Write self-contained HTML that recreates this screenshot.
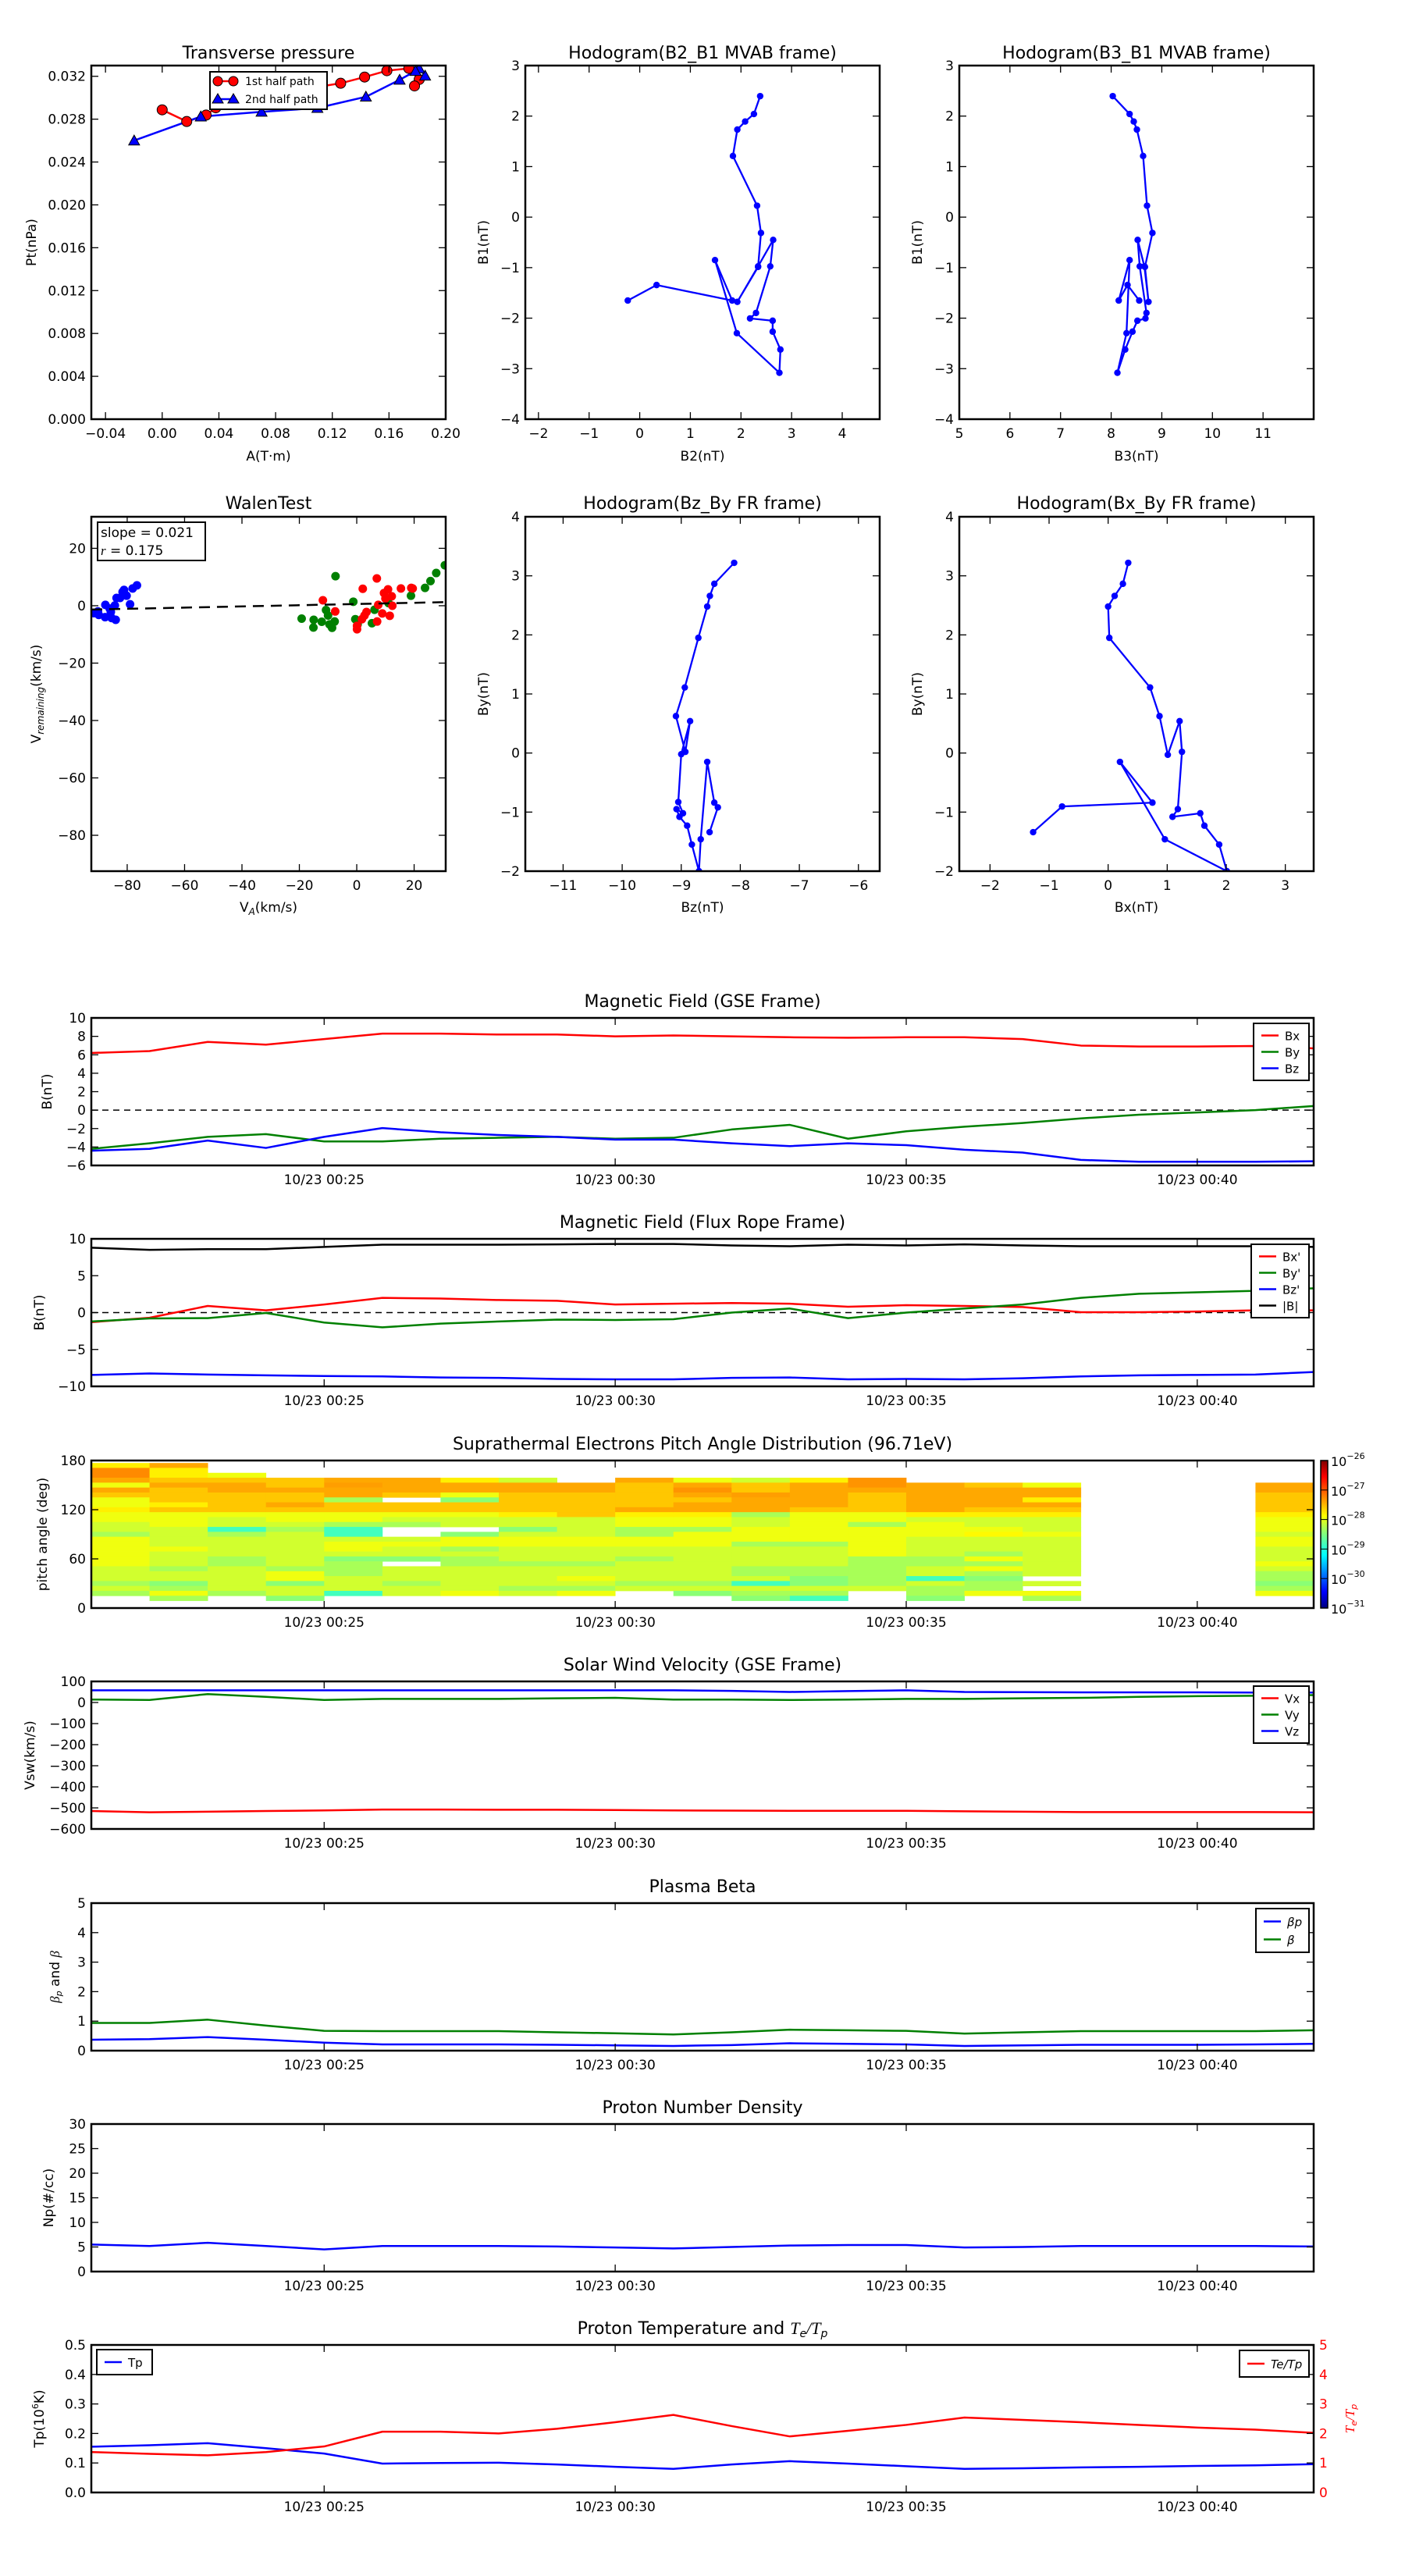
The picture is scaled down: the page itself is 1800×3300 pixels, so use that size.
<!DOCTYPE html>
<html><head><meta charset="utf-8"><title>Flux rope analysis</title>
<style>
html,body{margin:0;padding:0;background:#fff;}
svg{display:block;font-family:"DejaVu Sans","Liberation Sans",sans-serif;}
</style></head>
<body>
<svg id="fig" xmlns="http://www.w3.org/2000/svg" width="1800" height="3300" viewBox="0 0 1800 3300">
<defs>
<linearGradient id="jetGrad" x1="0" y1="1" x2="0" y2="0">
<stop offset="0" stop-color="#00007f"/><stop offset="0.11" stop-color="#0000ff"/><stop offset="0.36" stop-color="#00ffff"/><stop offset="0.5" stop-color="#80ff80"/><stop offset="0.625" stop-color="#ffff00"/><stop offset="0.89" stop-color="#ff0000"/><stop offset="1" stop-color="#7f0000"/>
</linearGradient>
</defs>
<rect x="0" y="0" width="1800" height="3300" fill="#fff"/>
</svg>
<script>
// ---------- Transverse pressure ----------
const tpFirstA = [0.0, 0.0173, 0.031, 0.0378, 0.07, 0.10, 0.1259, 0.1428, 0.1585, 0.174, 0.1813, 0.178];
const tpFirstPt = [0.02887, 0.02778, 0.02838, 0.02906, 0.0300, 0.0308, 0.03135, 0.03193, 0.03252, 0.03274, 0.0317, 0.0311];
const tpSecondA = [0.1855, 0.1813, 0.1787, 0.1675, 0.1437, 0.1095, 0.0701, 0.0272, -0.0198];
const tpSecondPt = [0.03205, 0.03273, 0.03249, 0.03167, 0.03009, 0.02904, 0.02868, 0.02824, 0.0260];
const tpXTicks = [-0.04, 0.00, 0.04, 0.08, 0.12, 0.16, 0.20];
const tpYTicks = [0.000, 0.004, 0.008, 0.012, 0.016, 0.020, 0.024, 0.028, 0.032];
// ---------- Hodogram B2_B1 ----------
const h1B2 = [2.379, 2.256, 2.082, 1.928, 1.841, 2.318, 2.395, 2.338, 1.928, 2.338, 2.636, 2.579, 2.297, 2.179, 2.626, 2.626, 2.779, 2.759, 1.918, 1.487, 1.826, 0.333, -0.236];
const h1B1 = [2.395, 2.041, 1.892, 1.733, 1.210, 0.226, -0.313, -0.985, -1.677, -0.974, -0.451, -0.974, -1.897, -2.005, -2.051, -2.267, -2.621, -3.082, -2.297, -0.851, -1.651, -1.344, -1.651];
// ---------- Hodogram B3_B1 ----------
const h2B3 = [8.031, 8.364, 8.446, 8.508, 8.631, 8.708, 8.815, 8.667, 8.738, 8.656, 8.523, 8.564, 8.697, 8.677, 8.518, 8.421, 8.277, 8.123, 8.303, 8.364, 8.149, 8.323, 8.554];
const h2B1 = [2.395, 2.041, 1.892, 1.733, 1.210, 0.226, -0.313, -0.985, -1.677, -0.974, -0.451, -0.974, -1.897, -2.005, -2.051, -2.267, -2.621, -3.082, -2.297, -0.851, -1.651, -1.344, -1.651];
// ---------- Walen test ----------
const walenBlueX = [-91.6, -90.2, -89.9, -87.6, -87.7, -86.1, -85.7, -85.4, -84.0, -84.3, -83.7, -82.5, -81.6, -81.1, -80.2, -79.0, -78.1, -76.6];
const walenBlueY = [-2.6, -2.0, -3.2, 0.3, -4.0, -1.0, -2.2, -4.3, -4.9, 0.1, 2.7, 2.7, 4.8, 5.5, 3.5, 0.5, 6.0, 7.1];
const walenRedX = [-11.8, -7.5, 2.1, 7.0, 0.1, 0.1, 1.8, 2.7, 3.4, 7.1, 7.5, 8.9, 9.5, 10.9, 12.2, 12.4, 11.5, 15.4, 19.0, 19.5, 10.0];
const walenRedY = [1.9, -2.0, 5.9, 9.5, -8.2, -7.0, -4.7, -3.4, -2.2, -5.5, 0.3, -2.7, 4.4, 5.7, 3.3, 0.0, -3.5, 6.0, 6.2, 6.0, 2.5];
const walenGreenX = [-19.2, -15.0, -15.1, -12.2, -10.7, -10.0, -9.5, -8.6, -7.7, -7.4, -1.2, -0.5, 0.3, 5.3, 6.2, 11.1, 18.9, 23.8, 25.7, 27.7, 30.7];
const walenGreenY = [-4.5, -4.9, -7.6, -5.6, -1.5, -3.4, -6.5, -7.7, -5.5, 10.3, 1.4, -4.7, -6.5, -6.1, -1.4, 0.9, 3.5, 6.2, 8.6, 11.4, 14.1];
const walenSlope = 0.021;
const walenIntercept = 0.6;
const walenTicks = [-80, -60, -40, -20, 0, 20];
// ---------- Hodogram Bz_By ----------
const h3Bz = [-8.104, -8.44, -8.515, -8.56, -8.71, -8.94, -9.09, -8.93, -8.85, -9.0, -9.05, -8.97, -9.08, -9.03, -8.9, -8.82, -8.7, -8.67, -8.56, -8.44, -8.38, -8.52];
const h3By = [3.22, 2.865, 2.66, 2.48, 1.95, 1.11, 0.625, 0.02, 0.54, -0.02, -0.83, -1.02, -0.95, -1.08, -1.23, -1.55, -2.0, -1.46, -0.15, -0.84, -0.92, -1.34];
// ---------- Hodogram Bx_By ----------
const h4Bx = [0.34, 0.25, 0.11, 0.0, 0.02, 0.71, 0.87, 1.01, 1.21, 1.25, 1.18, 1.09, 1.56, 1.63, 1.88, 2.01, 0.96, 0.2, 0.75, -0.78, -1.27];
const h4By = [3.22, 2.865, 2.66, 2.48, 1.95, 1.11, 0.625, -0.03, 0.54, 0.02, -0.95, -1.08, -1.02, -1.23, -1.55, -2.0, -1.46, -0.15, -0.84, -0.905, -1.34];
// ---------- Time series (minutes after 00:21) ----------
const minutes = [0,1,2,3,4,5,6,7,8,9,10,11,12,13,14,15,16,17,18,19,20,21];
const timeTickMinutes = [4, 9, 14, 19];
const timeTickLabels = ['10/23 00:25', '10/23 00:30', '10/23 00:35', '10/23 00:40'];
const gseBx = [6.2, 6.4, 7.4, 7.1, 7.7, 8.3, 8.3, 8.2, 8.2, 8.0, 8.1, 8.0, 7.9, 7.85, 7.9, 7.9, 7.7, 7.0, 6.9, 6.9, 6.95, 6.7];
const gseBy = [-4.2, -3.6, -2.9, -2.6, -3.4, -3.4, -3.1, -3.0, -2.9, -3.1, -3.0, -2.1, -1.6, -3.1, -2.3, -1.8, -1.4, -0.9, -0.5, -0.25, 0.0, 0.45];
const gseBz = [-4.4, -4.2, -3.3, -4.1, -2.9, -1.95, -2.4, -2.7, -2.9, -3.2, -3.2, -3.6, -3.9, -3.6, -3.8, -4.3, -4.6, -5.4, -5.6, -5.6, -5.6, -5.55];
const frBx = [-1.3, -0.7, 0.9, 0.3, 1.1, 2.0, 1.9, 1.7, 1.6, 1.1, 1.2, 1.3, 1.2, 0.8, 1.0, 0.9, 0.75, 0.05, 0.05, 0.15, 0.3, 0.3];
const frBy = [-1.2, -0.8, -0.75, -0.05, -1.35, -2.0, -1.5, -1.2, -0.95, -1.0, -0.9, 0.0, 0.55, -0.75, 0.0, 0.55, 1.1, 2.0, 2.55, 2.75, 2.95, 3.3];
const frBz = [-8.45, -8.25, -8.4, -8.5, -8.6, -8.65, -8.8, -8.85, -9.0, -9.05, -9.05, -8.85, -8.8, -9.05, -9.0, -9.05, -8.9, -8.65, -8.5, -8.45, -8.4, -8.05];
const frBt = [8.8, 8.5, 8.6, 8.6, 8.9, 9.2, 9.2, 9.2, 9.25, 9.3, 9.3, 9.1, 9.0, 9.2, 9.1, 9.25, 9.1, 9.0, 9.0, 9.0, 9.0, 8.9];
const vswVx = [-515, -521, -518, -515, -512, -508, -508, -509, -509, -510, -512, -513, -514, -514, -514, -516, -518, -520, -520, -520, -520, -521];
const vswVy = [14, 12, 40, 27, 12, 17, 17, 17, 20, 22, 14, 14, 12, 14, 17, 17, 20, 22, 27, 30, 32, 35];
const vswVz = [58, 58, 58, 58, 58, 58, 58, 58, 58, 58, 58, 55, 50, 54, 58, 50, 49, 48, 48, 48, 47, 47];
const betaP = [0.37, 0.39, 0.46, 0.37, 0.27, 0.21, 0.21, 0.21, 0.2, 0.18, 0.16, 0.19, 0.25, 0.23, 0.21, 0.16, 0.18, 0.2, 0.2, 0.2, 0.21, 0.23];
const betaTot = [0.94, 0.94, 1.05, 0.85, 0.67, 0.66, 0.66, 0.66, 0.62, 0.59, 0.55, 0.62, 0.71, 0.69, 0.67, 0.58, 0.62, 0.66, 0.66, 0.66, 0.66, 0.69];
const protonDensity = [5.5, 5.2, 5.85, 5.2, 4.5, 5.2, 5.2, 5.2, 5.1, 4.9, 4.7, 5.0, 5.3, 5.4, 5.4, 4.9, 5.0, 5.2, 5.2, 5.2, 5.2, 5.1];
const protonTemp = [0.155, 0.16, 0.167, 0.15, 0.132, 0.098, 0.1, 0.101, 0.095, 0.087, 0.08, 0.095, 0.106, 0.098, 0.089, 0.08, 0.082, 0.085, 0.087, 0.09, 0.092, 0.096];
const tempRatio = [1.37, 1.31, 1.26, 1.37, 1.56, 2.06, 2.06, 2.0, 2.16, 2.38, 2.63, 2.25, 1.9, 2.09, 2.29, 2.54, 2.46, 2.38, 2.29, 2.2, 2.13, 2.02];
// ---------- Pitch angle distribution (log10 flux), rows top (177°) to bottom, 6° bins ----------
const padRowTops = [177,171,165,159,153,147,141,135,129,123,117,111,105,99,93,87,81,75,69,63,57,51,45,39,33,27,21,15];
const padColMinutes = [0,1,2,3,4,5,6,7,8,9,10,11,12,13,14,15,16,20];
const padCol0 = [-27.8,-27.3,-27.3,-27.45,-27.95,-27.45,-27.6,-27.95,-27.95,-27.8,-27.95,-27.95,-28.1,-28.1,-28.3,-27.95,-27.95,-27.95,-27.95,-27.95,-27.95,-28.1,-28.1,-28.1,-28.3,-28.1,-28.3,null];
const padCol1 = [-27.45,-27.8,-27.8,-27.6,-27.45,-27.6,-27.6,-27.6,-27.8,-27.6,-27.95,-27.95,-27.95,-28.1,-28.1,-28.1,-28.1,-27.95,-28.1,-28.1,-28.1,-28.3,-28.1,-28.1,-28.45,-28.3,-27.95,-28.3];
const padCol2 = [null,null,-27.95,-27.6,-27.45,-27.45,-27.6,-27.6,-27.6,-27.6,-27.95,-28.1,-28.1,-28.8,-28.3,-28.1,-28.1,-28.1,-28.1,-28.3,-28.3,-28.1,-28.1,-28.1,-28.1,-28.1,-28.3,null];
const padCol3 = [null,null,null,-27.6,-27.6,-27.45,-27.6,-27.6,-27.45,-27.6,-27.95,-27.95,-28.1,-28.3,-28.1,-28.1,-28.1,-28.1,-28.1,-28.1,-28.1,-28.3,-27.95,-27.95,-28.45,-28.1,-28.1,-28.45];
const padCol4 = [null,null,null,-27.45,-27.4,-27.45,-27.45,-28.3,-27.6,-27.6,-27.95,-27.95,-28.3,-28.8,-28.8,-28.1,-27.95,-27.95,-28.1,-28.45,-28.3,-28.3,-28.3,-28.1,-28.1,-28.1,-28.8,null];
const padCol5 = [null,null,null,-27.45,-27.45,-27.45,-27.6,null,-27.6,-27.6,-27.95,-28.1,-28.3,null,null,-28.1,-27.95,-28.1,-28.1,-28.45,null,-28.1,-28.1,-28.1,-28.3,-28.1,-28.1,null];
const padCol6 = [null,null,null,-27.8,-27.45,-27.45,-27.95,-28.45,-27.6,-27.6,-27.95,-28.1,-28.1,null,-28.45,-27.95,-27.95,-28.3,-28.1,-28.3,-28.3,-28.1,-28.1,-28.1,-28.1,-28.1,-27.95,null];
const padCol7 = [null,null,null,-28.1,-27.45,-27.45,-27.6,-27.6,-27.6,-27.6,-27.8,-28.1,-28.1,-28.45,-28.1,-27.95,-27.95,-28.1,-28.1,-28.1,-28.3,-28.1,-28.1,-28.1,-28.1,-28.3,-28.1,null];
const padCol8 = [null,null,null,null,-27.45,-27.45,-27.6,-27.6,-27.6,-27.6,-27.6,-28.1,-28.1,-28.1,-28.1,-27.95,-27.95,-28.1,-28.1,-28.1,-28.3,-28.1,-28.1,-27.95,-28.1,-28.3,-27.95,null];
const padCol9 = [null,null,null,-27.45,-27.6,-27.6,-27.6,-27.6,-27.6,-27.45,-27.8,-27.95,-27.95,-28.3,-28.3,-27.95,-27.95,-28.1,-28.1,-28.3,-28.1,-28.1,-28.1,-28.1,-28.3,-28.1,null,null];
const padCol10 = [null,null,null,-27.95,-27.45,-27.35,-27.45,-27.6,-27.45,-27.45,-27.8,-27.95,-27.95,-28.3,-27.95,-27.95,-27.95,-28.1,-28.1,-28.1,-28.1,-28.1,-28.1,-28.1,-28.3,-28.1,-28.45,null];
const padCol11 = [null,null,null,-28.1,-27.6,-27.6,-27.4,-27.45,-27.45,-27.45,-28.3,-28.1,-28.1,-27.95,-27.95,-27.95,-28.3,-28.1,-28.1,-28.1,-28.1,-28.3,-28.3,-28.1,-28.8,-28.1,-28.3,-28.45];
const padCol12 = [null,null,null,-27.8,-27.45,-27.45,-27.45,-27.45,-27.45,-27.6,-27.95,-27.95,-27.95,-27.95,-27.95,-27.95,-28.3,-28.1,-28.1,-28.1,-28.1,-28.3,-28.3,-28.45,-28.45,-28.1,-28.3,-28.8];
const padCol13 = [null,null,null,-27.35,-27.35,-27.45,-27.6,-27.6,-27.6,-27.6,-27.95,-27.95,-28.3,-27.95,-27.95,-27.95,-27.95,-27.95,-27.95,-28.3,-28.3,-28.3,-28.3,-28.3,-28.3,-28.1,null,null];
const padCol14 = [null,null,null,null,-27.45,-27.45,-27.45,-27.45,-27.45,-27.45,-27.8,-28.1,-27.95,-27.95,-27.95,-28.1,-28.1,-28.1,-28.1,-28.3,-28.3,-28.1,-28.1,-28.8,-28.1,-28.3,-28.3,-28.45];
const padCol15 = [null,null,null,null,-27.6,-27.45,-27.45,-27.45,-27.45,-27.6,-27.8,-28.1,-28.1,-27.95,-27.85,-28.1,-28.1,-28.1,-28.3,-27.95,-28.3,-27.95,-28.3,-28.45,-28.3,-28.3,-27.95,null];
const padCol16 = [null,null,null,null,-27.95,-27.45,-27.45,-27.8,-27.45,-27.6,-27.8,-28.1,-28.1,-28.1,-27.95,-28.1,-28.1,-28.1,-28.1,-28.1,-28.1,-28.1,-28.1,null,-28.1,null,-27.95,-28.3];
const padCol20 = [null,null,null,null,-27.45,-27.45,-27.6,-27.6,-27.6,-27.6,-27.8,-27.95,-27.95,-27.95,-28.1,-27.95,-27.95,-28.1,-28.1,-28.1,-27.95,-28.1,-28.3,-28.3,-28.45,-28.3,-27.95,null];
const padColumns = [padCol0,padCol1,padCol2,padCol3,padCol4,padCol5,padCol6,padCol7,padCol8,padCol9,padCol10,padCol11,padCol12,padCol13,padCol14,padCol15,padCol16,padCol20];
const cbarExponents = [-26, -27, -28, -29, -30, -31];

// ================= drawing helpers =================
const NS = 'http://www.w3.org/2000/svg';
const svg = document.getElementById('fig');
let clipCount = 0;
function el(tag, parent, attrs) {
  const e = document.createElementNS(NS, tag);
  for (const k in attrs) e.setAttribute(k, attrs[k]);
  parent.appendChild(e);
  return e;
}
function txt(parent, x, y, s, attrs) {
  const t = el('text', parent, Object.assign({x: x, y: y}, attrs || {}));
  t.textContent = s;
  return t;
}
function fmtNum(v, d) {
  const s = Math.abs(v).toFixed(d);
  return (v < -1e-12 ? '\u2212' : '') + s;
}
function makeAxes(name, box, xr, yr) {
  const g = el('g', svg, {});
  
  
  const sx = v => box.x + (v - xr[0]) / (xr[1] - xr[0]) * box.w;
  const sy = v => box.y + box.h - (v - yr[0]) / (yr[1] - yr[0]) * box.h;
  const id = 'clip' + (clipCount++);
  const cp = el('clipPath', g, {id: id});
  el('rect', cp, {x: box.x, y: box.y, width: box.w, height: box.h});
  const plot = el('g', g, {'clip-path': 'url(#' + id + ')'});
  
  
  return {g: g, plot: plot, sx: sx, sy: sy, box: box};
}
function frame(ax) {
  const r = el('rect', ax.g, {x: ax.box.x, y: ax.box.y, width: ax.box.w, height: ax.box.h, fill: 'none', stroke: '#000', 'stroke-width': 2.5});
  
  
}
function xTicks(ax, vals, labels, fs) {
  const b = ax.box;
  const g = el('g', ax.g, {});
  
  
  vals.forEach((v, i) => {
    const x = ax.sx(v);
    el('line', g, {x1: x, x2: x, y1: b.y + b.h, y2: b.y + b.h - 9, stroke: '#000', 'stroke-width': 1.3});
    el('line', g, {x1: x, x2: x, y1: b.y, y2: b.y + 9, stroke: '#000', 'stroke-width': 1.3});
    const t = txt(g, x, b.y + b.h + 24, labels[i], {'font-size': fs || 17, 'text-anchor': 'middle'});
    
    
  });
}
function yTicks(ax, vals, labels, opts) {
  opts = opts || {};
  const b = ax.box;
  const g = el('g', ax.g, {});
  
  
  vals.forEach((v, i) => {
    const y = opts.sy ? opts.sy(v) : ax.sy(v);
    el('line', g, {x1: b.x, x2: b.x + 9, y1: y, y2: y, stroke: '#000', 'stroke-width': 1.3});
    el('line', g, {x1: b.x + b.w, x2: b.x + b.w - 9, y1: y, y2: y, stroke: '#000', 'stroke-width': 1.3});
    let t;
    if (opts.right) t = txt(g, b.x + b.w + 8, y + 6, labels[i], {'font-size': opts.fs || 17, 'text-anchor': 'start', fill: opts.color || '#000'});
    else t = txt(g, b.x - 7, y + 6, labels[i], {'font-size': opts.fs || 17, 'text-anchor': 'end', fill: opts.color || '#000'});
    
    
  });
}
function title(ax, s, y) {
  const t = txt(ax.g, ax.box.x + ax.box.w / 2, y, s, {'font-size': 22, 'text-anchor': 'middle'});
  
  
  return t;
}
function xLabel(ax, s, y) {
  const t = txt(ax.g, ax.box.x + ax.box.w / 2, y, s, {'font-size': 17, 'text-anchor': 'middle'});
  
  
  return t;
}
function yLabel(ax, s, x, color) {
  const cy = ax.box.y + ax.box.h / 2;
  const t = txt(ax.g, x, cy, s, {'font-size': 17, 'text-anchor': 'middle', transform: 'rotate(-90 ' + x + ' ' + cy + ')', fill: color || '#000'});
  
  
  return t;
}
function polyline(ax, xs, ys, color, w, name, dash) {
  const pts = xs.map((x, i) => ax.sx(x).toFixed(2) + ',' + ax.sy(ys[i]).toFixed(2)).join(' ');
  const p = el('polyline', ax.plot, {points: pts, fill: 'none', stroke: color, 'stroke-width': w || 2.5, 'stroke-linejoin': 'round'});
  if (dash) p.setAttribute('stroke-dasharray', dash);
  
  
  return p;
}
function dots(ax, xs, ys, color, r, name, stroke) {
  const g = el('g', ax.plot, {});
  
  
  xs.forEach((x, i) => {
    const c = el('circle', g, {cx: ax.sx(x), cy: ax.sy(ys[i]), r: r, fill: color});
    if (stroke) { c.setAttribute('stroke', stroke); c.setAttribute('stroke-width', 1); }
    
    
  });
}
function triangles(ax, xs, ys, color, s, name) {
  const g = el('g', ax.plot, {});
  
  
  xs.forEach((x, i) => {
    const cx = ax.sx(x), cy = ax.sy(ys[i]);
    const p = el('polygon', g, {points: cx + ',' + (cy - s) + ' ' + (cx - s) + ',' + (cy + s * 0.8) + ' ' + (cx + s) + ',' + (cy + s * 0.8), fill: color, stroke: '#000', 'stroke-width': 1});
    
    
  });
}
function legend(ax, x, y, w, entries, rowH) {
  const g = el('g', ax.g, {});
  
  
  el('rect', g, {x: x, y: y, width: w, height: entries.length * rowH + 10, fill: '#fff', stroke: '#000', 'stroke-width': 2});
  entries.forEach((e, i) => {
    const cy = y + 5 + rowH * (i + 0.5);
    const eg = el('g', g, {});
    
    
    el('line', eg, {x1: x + 10, x2: x + 32, y1: cy, y2: cy, stroke: e.color, 'stroke-width': 2.5});
    const t = txt(eg, x + 40, cy + 6, e.label, {'font-size': 15});
    if (e.italic) t.setAttribute('font-style', 'italic');
  });
}

// ================= Row 1 =================
const tpAx = makeAxes('transverse-pressure-chart', {x: 117, y: 84, w: 454, h: 453}, [-0.05, 0.20], [0, 0.033]);
polyline(tpAx, tpFirstA, tpFirstPt, '#ff0000', 2.5, 'first-half-path-line');
polyline(tpAx, tpSecondA, tpSecondPt, '#0000ff', 2.5, 'second-half-path-line');
dots(tpAx, tpFirstA, tpFirstPt, '#ff0000', 6.5, 'first-half-path-markers', '#000');
triangles(tpAx, tpSecondA, tpSecondPt, '#0000ff', 7, 'second-half-path-markers');
frame(tpAx);
xTicks(tpAx, tpXTicks, tpXTicks.map(v => fmtNum(v, 2)));
yTicks(tpAx, tpYTicks, tpYTicks.map(v => fmtNum(v, 3)));
title(tpAx, 'Transverse pressure', 75);
xLabel(tpAx, 'A(T\u00b7m)', 590);
yLabel(tpAx, 'Pt(nPa)', 46);
(function () {
  const g = el('g', tpAx.g, {});
  
  
  el('rect', g, {x: 269, y: 92, width: 150, height: 48, fill: '#fff', stroke: '#000', 'stroke-width': 2});
  el('line', g, {x1: 279, x2: 299, y1: 104, y2: 104, stroke: '#ff0000', 'stroke-width': 2.5});
  el('circle', g, {cx: 279, cy: 104, r: 6, fill: '#ff0000', stroke: '#000', 'stroke-width': 1});
  el('circle', g, {cx: 299, cy: 104, r: 6, fill: '#ff0000', stroke: '#000', 'stroke-width': 1});
  txt(g, 314, 109, '1st half path', {'font-size': 14});
  el('line', g, {x1: 279, x2: 299, y1: 127, y2: 127, stroke: '#0000ff', 'stroke-width': 2.5});
  el('polygon', g, {points: '279,120 272,132 286,132', fill: '#0000ff', stroke: '#000', 'stroke-width': 1});
  el('polygon', g, {points: '299,120 292,132 306,132', fill: '#0000ff', stroke: '#000', 'stroke-width': 1});
  txt(g, 314, 132, '2nd half path', {'font-size': 14});
})();

const intTicks = (a, b) => { const r = []; for (let v = a; v <= b; v++) r.push(v); return r; };
const intLbl = arr => arr.map(v => fmtNum(v, 0));

const h1Ax = makeAxes('hodogram-b2-b1-chart', {x: 673, y: 84, w: 454, h: 453}, [-2.26, 4.74], [-4, 3]);
polyline(h1Ax, h1B2, h1B1, '#0000ff', 2.3, 'b2-b1-path');
dots(h1Ax, h1B2, h1B1, '#0000ff', 4.2, 'b2-b1-points');
frame(h1Ax);
xTicks(h1Ax, intTicks(-2, 4), intLbl(intTicks(-2, 4)));
yTicks(h1Ax, intTicks(-4, 3), intLbl(intTicks(-4, 3)));
title(h1Ax, 'Hodogram(B2_B1 MVAB frame)', 75);
xLabel(h1Ax, 'B2(nT)', 590);
yLabel(h1Ax, 'B1(nT)', 625);

const h2Ax = makeAxes('hodogram-b3-b1-chart', {x: 1229, y: 84, w: 454, h: 453}, [5, 12], [-4, 3]);
polyline(h2Ax, h2B3, h2B1, '#0000ff', 2.3, 'b3-b1-path');
dots(h2Ax, h2B3, h2B1, '#0000ff', 4.2, 'b3-b1-points');
frame(h2Ax);
xTicks(h2Ax, intTicks(5, 11), intLbl(intTicks(5, 11)));
yTicks(h2Ax, intTicks(-4, 3), intLbl(intTicks(-4, 3)));
title(h2Ax, 'Hodogram(B3_B1 MVAB frame)', 75);
xLabel(h2Ax, 'B3(nT)', 590);
yLabel(h2Ax, 'B1(nT)', 1181);

// ================= Row 2 =================
const wAx = makeAxes('walen-test-chart', {x: 117, y: 662, w: 454, h: 454}, [-92.5, 31], [-92.5, 31]);
dots(wAx, walenBlueX, walenBlueY, '#0000ff', 5.5, 'walen-blue-points');
dots(wAx, walenGreenX, walenGreenY, '#008000', 5.5, 'walen-green-points');
dots(wAx, walenRedX, walenRedY, '#ff0000', 5.5, 'walen-red-points');
(function () {
  const xs = [-92.5, 31];
  const ys = xs.map(x => walenSlope * x + walenIntercept);
  polyline(wAx, xs, ys, '#000', 2.5, 'walen-fit-line', '14,9');
})();
frame(wAx);
xTicks(wAx, walenTicks, intLbl(walenTicks));
yTicks(wAx, walenTicks, intLbl(walenTicks));
title(wAx, 'WalenTest', 652);
xLabel(wAx, 'V\u2090(km/s)', 1168).innerHTML = 'V<tspan font-size="12" font-style="italic" dy="4">A</tspan><tspan dy="-4">(km/s)</tspan>';
(function () {
  const t = yLabel(wAx, '', 52);
  t.innerHTML = 'V<tspan font-size="12" font-style="italic" dy="4">remaining</tspan><tspan dy="-4">(km/s)</tspan>';
  const g = el('g', wAx.g, {});
  
  
  el('rect', g, {x: 125, y: 669, width: 138, height: 49, fill: '#fff', stroke: '#000', 'stroke-width': 2});
  txt(g, 129, 688, 'slope = ' + walenSlope.toFixed(3), {'font-size': 17});
  const t2 = txt(g, 129, 711, '', {'font-size': 17});
  t2.innerHTML = '<tspan font-style="italic" font-family="Liberation Serif, serif">r</tspan> = 0.175';
})();

const h3Ax = makeAxes('hodogram-bz-by-chart', {x: 673, y: 662, w: 454, h: 454}, [-11.64, -5.64], [-2, 4]);
polyline(h3Ax, h3Bz, h3By, '#0000ff', 2.3, 'bz-by-path');
dots(h3Ax, h3Bz, h3By, '#0000ff', 4.2, 'bz-by-points');
frame(h3Ax);
xTicks(h3Ax, intTicks(-11, -6), intLbl(intTicks(-11, -6)));
yTicks(h3Ax, intTicks(-2, 4), intLbl(intTicks(-2, 4)));
title(h3Ax, 'Hodogram(Bz_By FR frame)', 652);
xLabel(h3Ax, 'Bz(nT)', 1168);
yLabel(h3Ax, 'By(nT)', 625);

const h4Ax = makeAxes('hodogram-bx-by-chart', {x: 1229, y: 662, w: 454, h: 454}, [-2.52, 3.48], [-2, 4]);
polyline(h4Ax, h4Bx, h4By, '#0000ff', 2.3, 'bx-by-path');
dots(h4Ax, h4Bx, h4By, '#0000ff', 4.2, 'bx-by-points');
frame(h4Ax);
xTicks(h4Ax, intTicks(-2, 3), intLbl(intTicks(-2, 3)));
yTicks(h4Ax, intTicks(-2, 4), intLbl(intTicks(-2, 4)));
title(h4Ax, 'Hodogram(Bx_By FR frame)', 652);
xLabel(h4Ax, 'Bx(nT)', 1168);
yLabel(h4Ax, 'By(nT)', 1181);

// ================= Time series =================
const tsX = 117, tsW = 1566, tsH = 189;
function tsAxes(name, top, yr) {
  return makeAxes(name, {x: tsX, y: top, w: tsW, h: tsH}, [0, 21], yr);
}
function tsFinish(ax, t, yvals, ylbls, ylabelText, ylabelX) {
  frame(ax);
  xTicks(ax, timeTickMinutes, timeTickLabels, 17);
  yTicks(ax, yvals, ylbls);
  title(ax, t, ax.box.y - 14);
  return yLabel(ax, ylabelText, ylabelX);
}
function zeroLine(ax) {
  polyline(ax, [0, 21], [0, 0], '#000', 1.5, 'zero-reference-line', '8,6');
}

// GSE B
const gAx = tsAxes('magnetic-field-gse-chart', 1304, [-6, 10]);
zeroLine(gAx);
polyline(gAx, minutes, gseBx, '#ff0000', 2.5, 'bx-line');
polyline(gAx, minutes, gseBy, '#008000', 2.5, 'by-line');
polyline(gAx, minutes, gseBz, '#0000ff', 2.5, 'bz-line');
const gT = [-6, -4, -2, 0, 2, 4, 6, 8, 10];
tsFinish(gAx, 'Magnetic Field (GSE Frame)', gT, intLbl(gT), 'B(nT)', 66);
legend(gAx, 1606, 1311, 71, [{label: 'Bx', color: '#ff0000'}, {label: 'By', color: '#008000'}, {label: 'Bz', color: '#0000ff'}], 21);

// FR B
const fAx = tsAxes('magnetic-field-flux-rope-chart', 1587, [-10, 10]);
zeroLine(fAx);
polyline(fAx, minutes, frBt, '#000', 2.5, 'b-magnitude-line');
polyline(fAx, minutes, frBx, '#ff0000', 2.5, 'bx-prime-line');
polyline(fAx, minutes, frBy, '#008000', 2.5, 'by-prime-line');
polyline(fAx, minutes, frBz, '#0000ff', 2.5, 'bz-prime-line');
const fT = [-10, -5, 0, 5, 10];
tsFinish(fAx, 'Magnetic Field (Flux Rope Frame)', fT, intLbl(fT), 'B(nT)', 56);
legend(fAx, 1603, 1594, 74, [{label: "Bx'", color: '#ff0000'}, {label: "By'", color: '#008000'}, {label: "Bz'", color: '#0000ff'}, {label: '|B|', color: '#000'}], 21);

// PAD
function jet(v) {
  const t = Math.max(0, Math.min(1, (v + 31) / 5));
  const c = x => Math.round(255 * Math.max(0, Math.min(1, x)));
  return 'rgb(' + c(1.5 - Math.abs(4 * t - 3)) + ',' + c(1.5 - Math.abs(4 * t - 2)) + ',' + c(1.5 - Math.abs(4 * t - 1)) + ')';
}
const pAx = tsAxes('pitch-angle-distribution-chart', 1871, [0, 180]);
(function () {
  const g = el('g', pAx.plot, {});
  
  
  padColumns.forEach((col, ci) => {
    const m = padColMinutes[ci];
    const x0 = pAx.sx(m), x1 = pAx.sx(m + 1);
    col.forEach((v, ri) => {
      if (v === null) return;
      const top = padRowTops[ri];
      const y0 = pAx.sy(top), y1 = pAx.sy(top - 6);
      const r = el('rect', g, {x: x0.toFixed(2), y: y0.toFixed(2), width: (x1 - x0 + 0.4).toFixed(2), height: (y1 - y0 + 0.4).toFixed(2), fill: jet(v)});
      
      
    });
  });
})();
tsFinish(pAx, 'Suprathermal Electrons Pitch Angle Distribution (96.71eV)', [0, 60, 120, 180], ['0', '60', '120', '180'], 'pitch angle (deg)', 60);
(function () {
  const g = el('g', svg, {});
  
  
  el('rect', g, {x: 1692, y: 1871, width: 9, height: 189, fill: 'url(#jetGrad)', stroke: '#000', 'stroke-width': 1.5});
  cbarExponents.forEach(e => {
    const y = 1871 + (-26 - e) / 5 * 189;
    el('line', g, {x1: 1692, x2: 1701, y1: y, y2: y, stroke: '#000', 'stroke-width': 1});
    const t = txt(g, 1705, y + 7, '', {'font-size': 16});
    t.innerHTML = '10<tspan font-size="11" dy="-9">' + '\u2212' + Math.abs(e) + '</tspan>';
    
    
  });
})();

// Vsw
const vAx = tsAxes('solar-wind-velocity-chart', 2154, [-600, 100]);
polyline(vAx, minutes, vswVx, '#ff0000', 2.5, 'vx-line');
polyline(vAx, minutes, vswVy, '#008000', 2.5, 'vy-line');
polyline(vAx, minutes, vswVz, '#0000ff', 2.5, 'vz-line');
const vT = [-600, -500, -400, -300, -200, -100, 0, 100];
tsFinish(vAx, 'Solar Wind Velocity (GSE Frame)', vT, intLbl(vT), 'Vsw(km/s)', 44);
legend(vAx, 1606, 2160, 71, [{label: 'Vx', color: '#ff0000'}, {label: 'Vy', color: '#008000'}, {label: 'Vz', color: '#0000ff'}], 21);

// Beta
const bAx = tsAxes('plasma-beta-chart', 2438, [0, 5]);
polyline(bAx, minutes, betaTot, '#008000', 2.5, 'beta-line');
polyline(bAx, minutes, betaP, '#0000ff', 2.5, 'beta-p-line');
const bT = [0, 1, 2, 3, 4, 5];
const bl = tsFinish(bAx, 'Plasma Beta', bT, intLbl(bT), '', 76);
bl.innerHTML = '<tspan font-style="italic" font-family="Liberation Serif, serif">\u03b2</tspan><tspan font-size="11" dy="3" font-style="italic">p</tspan><tspan dy="-3"> and </tspan><tspan font-style="italic" font-family="Liberation Serif, serif">\u03b2</tspan>';
legend(bAx, 1609, 2445, 68, [{label: '\u03b2p', color: '#0000ff', italic: true}, {label: '\u03b2', color: '#008000', italic: true}], 23);

// Np
const nAx = tsAxes('proton-number-density-chart', 2721, [0, 30]);
polyline(nAx, minutes, protonDensity, '#0000ff', 2.5, 'np-line');
const nT = [0, 5, 10, 15, 20, 25, 30];
tsFinish(nAx, 'Proton Number Density', nT, intLbl(nT), 'Np(#/cc)', 68);

// Tp
const tAx = tsAxes('proton-temperature-chart', 3004, [0, 0.5]);
const ratioSy = v => 3004 + tsH - v / 5 * tsH;
polyline(tAx, minutes, protonTemp, '#0000ff', 2.5, 'tp-line');
(function () {
  const pts = minutes.map((m, i) => tAx.sx(m).toFixed(2) + ',' + ratioSy(tempRatio[i]).toFixed(2)).join(' ');
  const p = el('polyline', tAx.plot, {points: pts, fill: 'none', stroke: '#ff0000', 'stroke-width': 2.5, 'stroke-linejoin': 'round'});
  
  
})();
const tT = [0, 0.1, 0.2, 0.3, 0.4, 0.5];
const tpl = tsFinish(tAx, '', tT, tT.map(v => v.toFixed(1)), '', 56);
tpl.innerHTML = 'Tp(10<tspan font-size="11" dy="-7">6</tspan><tspan dy="7">K)</tspan>';
(function () {
  const tt = el('text', tAx.g, {x: 900, y: 2990, 'font-size': 22, 'text-anchor': 'middle'});
  
  
  tt.innerHTML = 'Proton Temperature and <tspan font-style="italic" font-family="Liberation Serif, serif">T</tspan><tspan font-size="14" dy="4" font-style="italic">e</tspan><tspan dy="-4" font-style="italic" font-family="Liberation Serif, serif">/T</tspan><tspan font-size="14" dy="4" font-style="italic">p</tspan>';
  const rg = el('g', tAx.g, {});
  
  
  [0, 1, 2, 3, 4, 5].forEach(v => {
    const y = ratioSy(v);
    const t = txt(rg, 1690, y + 6, String(v), {'font-size': 17, fill: '#ff0000'});
    
    
  });
  const cy = 3004 + tsH / 2;
  const rl = el('text', rg, {x: 1735, y: cy, 'font-size': 17, 'text-anchor': 'middle', fill: '#ff0000', transform: 'rotate(-90 1735 ' + cy + ')'});
  
  
  rl.innerHTML = '<tspan font-style="italic" font-family="Liberation Serif, serif">T</tspan><tspan font-size="11" dy="3" font-style="italic">e</tspan><tspan dy="-3" font-style="italic" font-family="Liberation Serif, serif">/T</tspan><tspan font-size="11" dy="3" font-style="italic">p</tspan>';
})();
legend(tAx, 124, 3010, 71, [{label: 'Tp', color: '#0000ff'}], 22);
legend(tAx, 1588, 3011, 89, [{label: 'Te/Tp', color: '#ff0000', italic: true}], 24);
</script>
</body></html>
